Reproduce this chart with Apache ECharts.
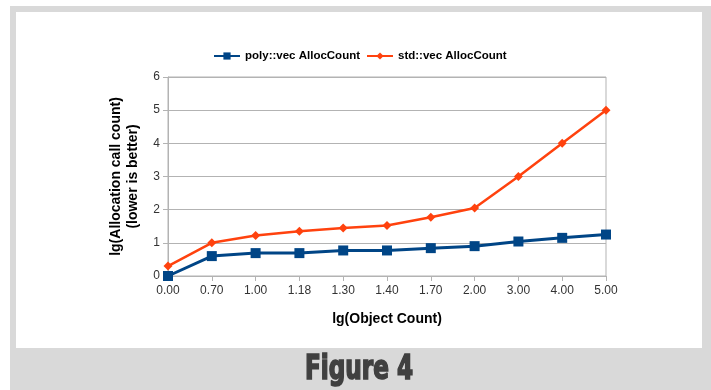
<!DOCTYPE html>
<html><head><meta charset="utf-8">
<script src="https://cdn.jsdelivr.net/npm/echarts@6/dist/echarts.min.js"></script>
<style>html,body{margin:0;padding:0;background:#fff}#c{width:711px;height:390px}</style>
</head><body><div id="c"></div>
<script>
const categories = ['0.00','0.70','1.00','1.18','1.30','1.40','1.70','2.00','3.00','4.00','5.00'];
const polyVec = [0, 0.6, 0.69, 0.69, 0.77, 0.77, 0.84, 0.9, 1.04, 1.15, 1.25];
const stdVec = [0.3, 1.0, 1.22, 1.35, 1.45, 1.52, 1.77, 2.05, 3.0, 4.0, 5.0];
const yTicks = {min: 0, max: 6, interval: 1};

const chart = echarts.init(document.getElementById('c'), null, {renderer: 'canvas'});
const font = 'Liberation Sans, Arial, sans-serif';
chart.setOption({
  animation: false,
  backgroundColor: '#fff',
  graphic: [
    {type: 'rect', shape: {x: 10, y: 6, width: 701, height: 384}, style: {fill: '#d9d9d9'}, z: -10, silent: true},
    {type: 'rect', shape: {x: 16, y: 12, width: 686, height: 336}, style: {fill: '#fff'}, z: -9, silent: true},
    {type: 'text', x: 359, y: 370, scaleX: 0.78, scaleY: 1,
     style: {text: 'Figure 4', fontFamily: 'DejaVu Sans Condensed, DejaVu Sans', fontWeight: 'bold', fontSize: 33,
             fill: '#404040', stroke: '#404040', lineWidth: 1.6, align: 'center', verticalAlign: 'middle'}, z: 10, silent: true}
  ],
  legend: {
    top: 45, left: 208, itemGap: 6, itemWidth: 26, itemHeight: 9,
    textStyle: {fontFamily: font, fontWeight: 'bold', fontSize: 11.5, color: '#000'},
    data: ['poly::vec AllocCount', 'std::vec AllocCount']
  },
  grid: {left: 168, right: 105, top: 77, bottom: 114, show: true, borderColor: '#b3b3b3', borderWidth: 1},
  xAxis: {
    type: 'category', data: categories, boundaryGap: false,
    name: 'lg(Object Count)', nameLocation: 'middle', nameGap: 36,
    nameTextStyle: {fontFamily: font, fontWeight: 'bold', fontSize: 14, color: '#000'},
    axisLine: {lineStyle: {color: '#b3b3b3'}},
    axisTick: {show: true, length: 5, lineStyle: {color: '#b3b3b3'}},
    axisLabel: {fontFamily: font, fontSize: 12, color: '#333', margin: 9},
    splitLine: {show: false}
  },
  yAxis: {
    type: 'value', min: yTicks.min, max: yTicks.max, interval: yTicks.interval,
    name: 'lg(Allocation call count)\n(lower is better)', nameLocation: 'middle', nameGap: 26,
    nameTextStyle: {fontFamily: font, fontWeight: 'bold', fontSize: 14, color: '#000', lineHeight: 17},
    axisLine: {show: true, lineStyle: {color: '#b3b3b3'}},
    axisTick: {show: true, length: 5, lineStyle: {color: '#b3b3b3'}},
    axisLabel: {fontFamily: font, fontSize: 12, color: '#333', margin: 8},
    splitLine: {lineStyle: {color: '#b3b3b3'}}
  },
  series: [
    {name: 'poly::vec AllocCount', type: 'line', data: polyVec, symbol: 'rect', symbolSize: 10,
     itemStyle: {color: '#004586'}, lineStyle: {color: '#004586', width: 3}, z: 3},
    {name: 'std::vec AllocCount', type: 'line', data: stdVec, symbol: 'diamond', symbolSize: 9,
     itemStyle: {color: '#ff420e'}, lineStyle: {color: '#ff420e', width: 2.5}, z: 2}
  ]
});
</script></body></html>
